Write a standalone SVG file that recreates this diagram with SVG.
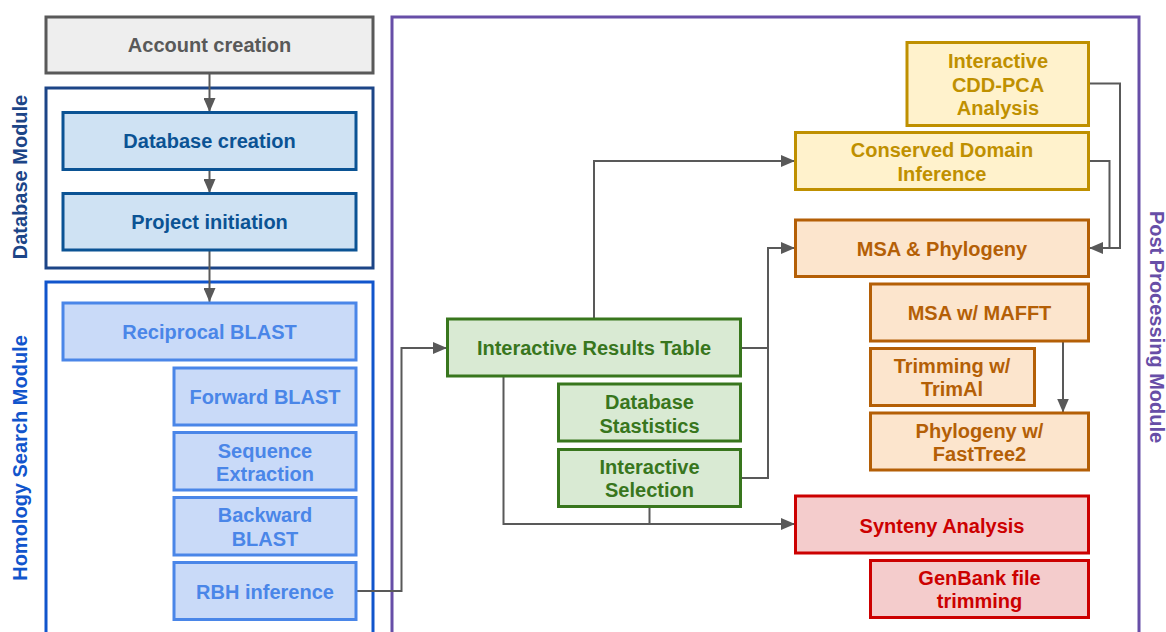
<svg xmlns="http://www.w3.org/2000/svg" width="1166" height="632" viewBox="0 0 1166 632">
  <defs>
    <marker id="arrow" viewBox="0 0 14 12" refX="14" refY="6" markerWidth="14" markerHeight="12" markerUnits="userSpaceOnUse" orient="auto">
      <path d="M0,0 L14,6 L0,12 z" fill="#595959"/>
    </marker>
    <style>
      text { font-family: "Liberation Sans", Arial, sans-serif; font-weight: bold; font-size: 20px; text-anchor: middle; }
      .box { stroke-width: 3; }
      .grey { fill: #eeeeee; stroke: #595959; }
      .grey-t { fill: #595959; }
      .dbm { fill: #cfe2f3; stroke: #0b5394; }
      .dbm-t { fill: #0b5394; }
      .hom { fill: #c9daf8; stroke: #4a86e8; }
      .hom-t { fill: #4a86e8; }
      .res { fill: #d9ead3; stroke: #38761d; }
      .res-t { fill: #38761d; }
      .cdd { fill: #fff2cc; stroke: #bf9000; }
      .cdd-t { fill: #bf9000; }
      .msa { fill: #fce5cd; stroke: #b45f06; }
      .msa-t { fill: #b45f06; }
      .syn { fill: #f4cccc; stroke: #cc0000; }
      .syn-t { fill: #cc0000; }
      .module { fill: #ffffff; stroke-width: 3; }
      .conn { fill: none; stroke: #595959; stroke-width: 2; }
    </style>
  </defs>

  <rect width="1166" height="632" fill="#ffffff"/>

  <!-- module frames -->
  <g id="database-module">
    <rect class="module" x="46" y="88" width="327" height="180" stroke="#1c4587"/>
    <text transform="translate(27,177) rotate(-90)" fill="#1c4587">Database Module</text>
  </g>
  <g id="homology-module">
    <rect class="module" x="46" y="282" width="327" height="360" stroke="#1155cc"/>
    <text transform="translate(27,458) rotate(-90)" fill="#1155cc">Homology Search Module</text>
  </g>
  <g id="post-processing-module">
    <rect class="module" x="392" y="17" width="747" height="625" stroke="#674ea7"/>
    <text transform="translate(1150,327) rotate(90)" fill="#674ea7">Post Processing Module</text>
  </g>

  <!-- connectors -->
  <g id="connectors">
    <path class="conn" d="M209.5,73 V112" marker-end="url(#arrow)"/>
    <path class="conn" d="M209.5,169 V193" marker-end="url(#arrow)"/>
    <path class="conn" d="M209.5,250 V302" marker-end="url(#arrow)"/>
    <path class="conn" d="M356,591 H401.5 V348 H447" marker-end="url(#arrow)"/>
    <path class="conn" d="M594,319 V161 H795" marker-end="url(#arrow)"/>
    <path class="conn" d="M741,348 H768 V248 H795" marker-end="url(#arrow)"/>
    <path class="conn" d="M741,478 H768 V348"/>
    <path class="conn" d="M503.5,376 V524 H795" marker-end="url(#arrow)"/>
    <path class="conn" d="M649.5,506 V524"/>
    <path class="conn" d="M1088,83.5 H1120 V248 H1089" marker-end="url(#arrow)"/>
    <path class="conn" d="M1088,161 H1109.5 V248"/>
    <path class="conn" d="M1063,341 V412.5" marker-end="url(#arrow)"/>
  </g>

  <!-- nodes -->
  <g id="account-creation">
    <rect class="box grey" x="46" y="17" width="327" height="56"/>
    <text class="grey-t" x="209.5" y="52">Account creation</text>
  </g>
  <g id="database-creation">
    <rect class="box dbm" x="63" y="112.5" width="293" height="57"/>
    <text class="dbm-t" x="209.5" y="148">Database creation</text>
  </g>
  <g id="project-initiation">
    <rect class="box dbm" x="63" y="193.5" width="293" height="56.5"/>
    <text class="dbm-t" x="209.5" y="229">Project initiation</text>
  </g>

  <g id="reciprocal-blast">
    <rect class="box hom" x="63" y="303" width="293" height="57"/>
    <text class="hom-t" x="209.5" y="339">Reciprocal BLAST</text>
  </g>
  <g id="forward-blast">
    <rect class="box hom" x="174" y="368" width="182" height="57"/>
    <text class="hom-t" x="265" y="404">Forward BLAST</text>
  </g>
  <g id="sequence-extraction">
    <rect class="box hom" x="174" y="432.5" width="182" height="57.5"/>
    <text class="hom-t" x="265" y="457.5">Sequence</text>
    <text class="hom-t" x="265" y="481">Extraction</text>
  </g>
  <g id="backward-blast">
    <rect class="box hom" x="174" y="497.5" width="182" height="57.5"/>
    <text class="hom-t" x="265" y="522">Backward</text>
    <text class="hom-t" x="265" y="545.5">BLAST</text>
  </g>
  <g id="rbh-inference">
    <rect class="box hom" x="174" y="562.5" width="182" height="57"/>
    <text class="hom-t" x="265" y="598.5">RBH inference</text>
  </g>

  <g id="interactive-results-table">
    <rect class="box res" x="447.5" y="319" width="293" height="57"/>
    <text class="res-t" x="594" y="355">Interactive Results Table</text>
  </g>
  <g id="database-statistics">
    <rect class="box res" x="558.5" y="384" width="182" height="57"/>
    <text class="res-t" x="649.5" y="408.5">Database</text>
    <text class="res-t" x="649.5" y="432.5">Stastistics</text>
  </g>
  <g id="interactive-selection">
    <rect class="box res" x="558.5" y="449.5" width="182" height="57"/>
    <text class="res-t" x="649.5" y="473.5">Interactive</text>
    <text class="res-t" x="649.5" y="497">Selection</text>
  </g>

  <g id="cdd-pca-analysis">
    <rect class="box cdd" x="907" y="42.5" width="181.5" height="83"/>
    <text class="cdd-t" x="998" y="68">Interactive</text>
    <text class="cdd-t" x="998" y="91.5">CDD-PCA</text>
    <text class="cdd-t" x="998" y="115">Analysis</text>
  </g>
  <g id="conserved-domain-inference">
    <rect class="box cdd" x="795.5" y="132.5" width="293" height="57"/>
    <text class="cdd-t" x="942" y="157">Conserved Domain</text>
    <text class="cdd-t" x="942" y="180.5">Inference</text>
  </g>

  <g id="msa-phylogeny">
    <rect class="box msa" x="795.5" y="220" width="293" height="56.5"/>
    <text class="msa-t" x="942" y="256">MSA &amp; Phylogeny</text>
  </g>
  <g id="msa-mafft">
    <rect class="box msa" x="870.5" y="284" width="218" height="57"/>
    <text class="msa-t" x="979.5" y="320">MSA w/ MAFFT</text>
  </g>
  <g id="trimming-trimal">
    <rect class="box msa" x="870.5" y="348.5" width="164" height="57"/>
    <text class="msa-t" x="952" y="372.5">Trimming w/</text>
    <text class="msa-t" x="952" y="396">TrimAl</text>
  </g>
  <g id="phylogeny-fasttree2">
    <rect class="box msa" x="870.5" y="413" width="218" height="57"/>
    <text class="msa-t" x="979.5" y="437.5">Phylogeny w/</text>
    <text class="msa-t" x="979.5" y="460.5">FastTree2</text>
  </g>

  <g id="synteny-analysis">
    <rect class="box syn" x="795.5" y="496" width="293" height="57"/>
    <text class="syn-t" x="942" y="532.5">Synteny Analysis</text>
  </g>
  <g id="genbank-trimming">
    <rect class="box syn" x="870.5" y="560.5" width="218" height="57"/>
    <text class="syn-t" x="979.5" y="584.5">GenBank file</text>
    <text class="syn-t" x="979.5" y="608">trimming</text>
  </g>
</svg>
